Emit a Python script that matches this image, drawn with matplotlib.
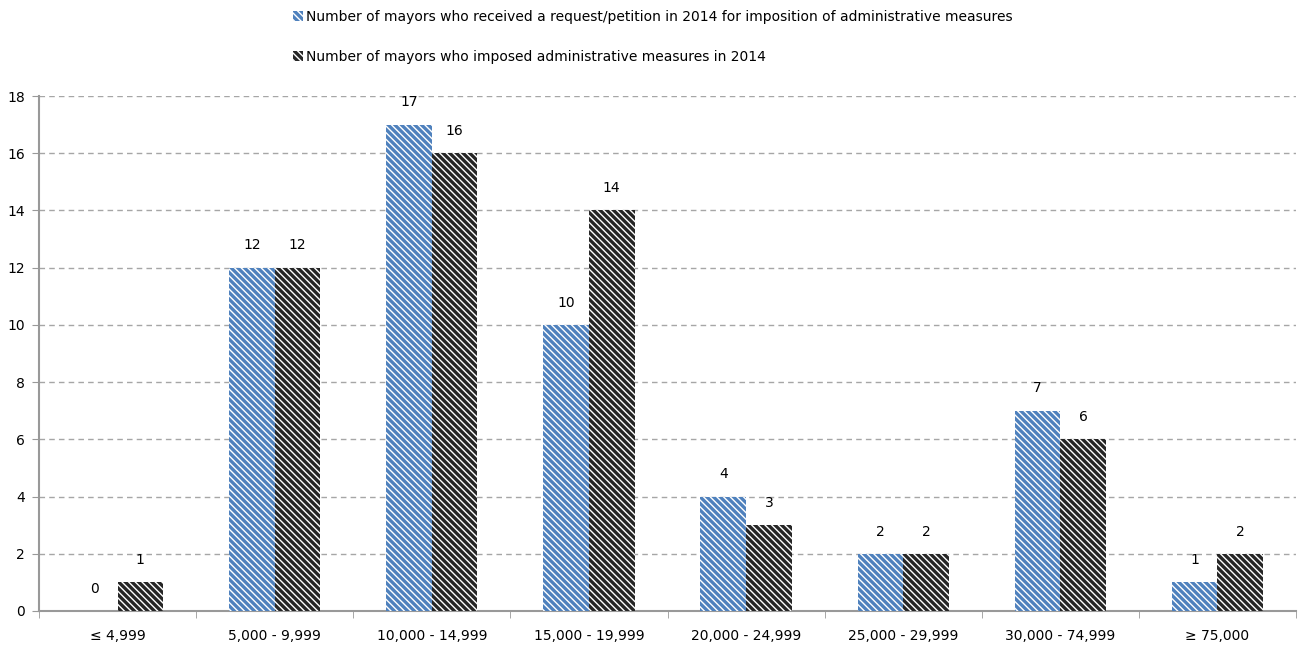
import matplotlib.pyplot as plt
import numpy as np

categories = ["≤ 4,999", "5,000 - 9,999", "10,000 - 14,999", "15,000 - 19,999",
              "20,000 - 24,999", "25,000 - 29,999", "30,000 - 74,999", "≥ 75,000"]
requested = [0, 12, 17, 10, 4, 2, 7, 1]
imposed = [1, 12, 16, 14, 3, 2, 6, 2]
labels = ["Number of mayors who received a request/petition in 2014 for imposition of administrative measures",
          "Number of mayors who imposed administrative measures in 2014"]

plt.rcParams['hatch.linewidth'] = 1.0
plt.rcParams['font.family'] = ['DejaVu Sans']

fig = plt.figure(figsize=(12.98, 6.47), dpi=100)
ax = fig.add_axes([39 / 1298, 36 / 647, 1257 / 1298, 515 / 647])

x = np.arange(len(categories))
w = 0.29
b1 = ax.bar(x - w / 2, requested, w, color="#4f81bd", edgecolor="white",
            hatch="\\\\\\\\\\", linewidth=0, label=labels[0], zorder=3)
b2 = ax.bar(x + w / 2, imposed, w, color="#262626", edgecolor="white",
            hatch="\\\\\\\\\\", linewidth=0, label=labels[1], zorder=3)

for bars, vals in ((b1, requested), (b2, imposed)):
    for r, v in zip(bars, vals):
        ax.annotate(str(v), (r.get_x() + r.get_width() / 2, v), xytext=(0, 11),
                    textcoords="offset points", ha="center", va="bottom", fontsize=10)

ax.set_xlim(-0.5, len(categories) - 0.5)
ax.set_ylim(0, 18)
ax.set_yticks(range(0, 19, 2))
ax.set_xticks(x)
ax.set_xticklabels(categories, fontsize=10)
ax.set_xticks(np.arange(-0.5, len(categories), 1), minor=True)
ax.tick_params(axis="x", which="major", length=0, pad=13)
ax.tick_params(axis="x", which="minor", length=5, color="#999999", direction="out")
ax.tick_params(axis="y", length=5, color="#999999", labelsize=10, pad=5)
ax.grid(axis="y", linestyle=(0, (4, 3)), color="#a6a6a6", linewidth=1, zorder=0)
for s in ("top", "right"):
    ax.spines[s].set_visible(False)
for s in ("left", "bottom"):
    ax.spines[s].set_color("#999999")
    ax.spines[s].set_linewidth(1.5)

fig.legend(handles=[b1, b2], labels=labels, loc="upper center", bbox_to_anchor=(0.503, 1.0),
           ncol=1, frameon=False, fontsize=10, handlelength=0.7, handleheight=0.7,
           handletextpad=0.2, labelspacing=1.9, borderaxespad=0.3)

fig.savefig("out.png", dpi=100)
